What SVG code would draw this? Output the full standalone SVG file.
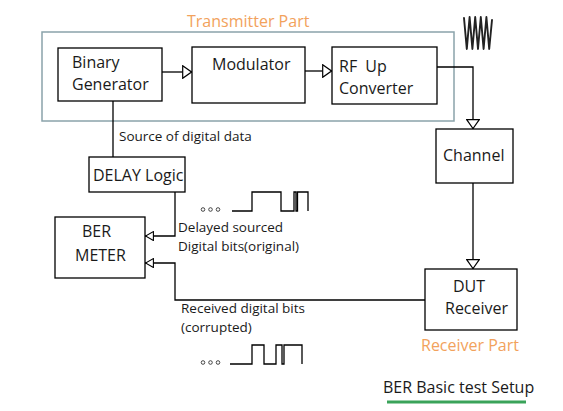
<svg xmlns="http://www.w3.org/2000/svg" width="563" height="411" viewBox="0 0 563 411">
<style>
.box{fill:#fff;stroke:#000;stroke-width:1.3}
.t{font-family:"Open Sans","Liberation Sans",sans-serif;font-size:16px;fill:#1a1a1a}
.s{font-family:"Open Sans","Liberation Sans",sans-serif;font-size:13.5px;fill:#1a1a1a}
.o{font-family:"Open Sans","Liberation Sans",sans-serif;font-size:16px;fill:#f2a25c}
.c{fill:none;stroke:#000;stroke-width:1.3}
.w{fill:none;stroke:#000;stroke-width:1.3}
.dot{fill:none;stroke:#333;stroke-width:0.9}
</style>
<defs>
<marker id="big" viewBox="0 0 10 14" refX="10" refY="7" markerWidth="10" markerHeight="14" markerUnits="userSpaceOnUse" orient="auto">
<path d="M0.7,0.7 L9.5,7 L0.7,13.3 Z" fill="#fff" stroke="#000" stroke-width="1.2"/>
</marker>
<marker id="small" viewBox="0 0 9 10" refX="9" refY="5" markerWidth="9" markerHeight="10" markerUnits="userSpaceOnUse" orient="auto">
<path d="M0.6,0.6 L8.5,5 L0.6,9.4 Z" fill="#fff" stroke="#000" stroke-width="1.1"/>
</marker>
</defs>
<rect width="563" height="411" fill="#fff"/>

<g id="transmitter-part">
<rect x="42" y="32" width="412" height="89" fill="none" stroke="#8aa3aa" stroke-width="1.5"/>
<text class="o" x="187" y="27">Transmitter Part</text>
</g>

<g id="connectors">
<path class="c" d="M113,101 V157"/>
<path class="c" d="M162,72 H192" marker-end="url(#big)"/>
<path class="c" d="M305,71 H332" marker-end="url(#big)"/>
<path class="c" d="M437,67 H473 V129" marker-end="url(#big)"/>
<path class="c" d="M473,183 V269" marker-end="url(#big)"/>
<path class="c" d="M175,192 V236 H145" marker-end="url(#small)"/>
<path class="c" d="M425,300 H175 V263 H145" marker-end="url(#small)"/>
</g>

<g id="binary-generator">
<rect class="box" x="58" y="48" width="104" height="53"/>
<text class="t" x="72" y="68">Binary</text>
<text class="t" x="72" y="90">Generator</text>
</g>

<g id="modulator">
<rect class="box" x="192" y="47" width="113" height="56"/>
<text class="t" x="212" y="70">Modulator</text>
</g>

<g id="rf-up-converter">
<rect class="box" x="332" y="47" width="105" height="57"/>
<text class="t" x="339" y="72" word-spacing="4">RF Up</text>
<text class="t" x="339" y="94">Converter</text>
</g>

<g id="rf-wave">
<polyline points="464,18 466.8,49 469.6,17 472.4,49 475.2,17 478,49 480.8,17 483.6,49 486.4,17 489.2,49 492,20" fill="none" stroke="#222" stroke-width="1.9" stroke-linejoin="round" stroke-linecap="round"/>
</g>

<g id="channel">
<rect class="box" x="436" y="129" width="77" height="54"/>
<text class="t" x="443" y="161">Channel</text>
</g>

<g id="dut-receiver">
<rect class="box" x="425" y="269" width="92" height="61"/>
<text class="t" x="453" y="292">DUT</text>
<text class="t" x="445" y="314">Receiver</text>
<text class="o" x="421" y="351">Receiver Part</text>
</g>

<g id="delay-logic">
<rect class="box" x="89" y="157" width="96" height="35"/>
<text class="t" x="93" y="181">DELAY Logic</text>
</g>

<g id="ber-meter">
<rect class="box" x="55" y="217" width="90" height="61"/>
<text class="t" x="82" y="237">BER</text>
<text class="t" x="75" y="261">METER</text>
</g>

<g id="labels">
<text class="s" x="119" y="141">Source of digital data</text>
<text class="s" x="178" y="232">Delayed sourced</text>
<text class="s" x="178" y="251">Digital bits(original)</text>
<text class="s" x="181" y="313">Received digital bits</text>
<text class="s" x="181" y="332">(corrupted)</text>
</g>

<g id="wave-original">
<circle class="dot" cx="203" cy="209.5" r="1.8"/>
<circle class="dot" cx="210.5" cy="209.5" r="1.8"/>
<circle class="dot" cx="218" cy="209.5" r="1.8"/>
<path class="w" d="M232,211 H252 V192 H281 V211 H294 V192 H296 V211 H297.5 V192 H308 V211"/>
</g>

<g id="wave-corrupted">
<circle class="dot" cx="203" cy="362.5" r="1.8"/>
<circle class="dot" cx="210.5" cy="362.5" r="1.8"/>
<circle class="dot" cx="218" cy="362.5" r="1.8"/>
<path class="w" d="M230,364 H252 V345 H264 V364 H276 V345 H282 V364 H284 V345 H302 V364"/>
</g>

<g id="title">
<text class="t" x="383" y="393" font-size="17">BER Basic test Setup</text>
<line x1="387" y1="402" x2="526" y2="402" stroke="#3aa35a" stroke-width="3"/>
</g>
</svg>
